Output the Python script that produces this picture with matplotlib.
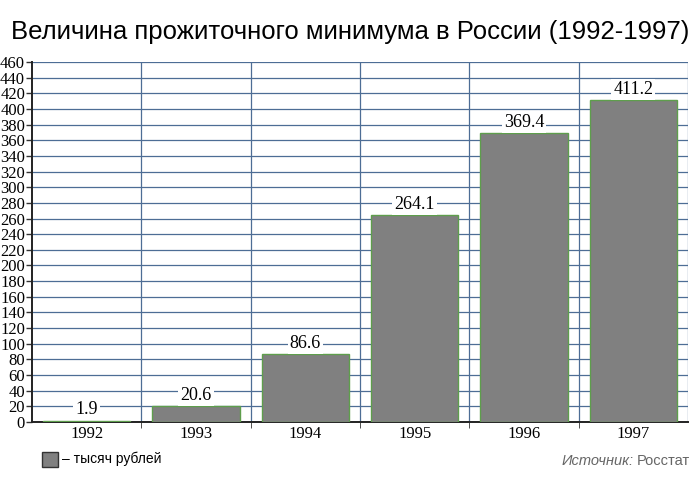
import matplotlib.pyplot as plt
from matplotlib.patches import Rectangle

years = ["1992", "1993", "1994", "1995", "1996", "1997"]
values = [1.9, 20.6, 86.6, 264.1, 369.4, 411.2]
labels = ["1.9", "20.6", "86.6", "264.1", "369.4", "411.2"]

fig = plt.figure(figsize=(7, 4.82), dpi=100)
ax = fig.add_axes([32 / 700, 60 / 482, 656 / 700, 360 / 482])

grid_c = "#4d6d95"
x = list(range(len(years)))
bars = ax.bar(x, values, width=0.8, color="#808080", edgecolor="#5e9e4c",
              linewidth=1.0, zorder=3)

ax.set_xlim(-0.5, len(years) - 0.5)
ax.set_ylim(0, 460)
ax.set_yticks(range(0, 461, 20))
ax.set_yticklabels([str(v) for v in range(0, 461, 20)],
                   family="Liberation Serif", fontsize=12)
ax.set_xticks(x)
ax.set_xticklabels(years, family="Liberation Serif", fontsize=12)
ax.tick_params(axis="x", length=0, pad=3)
ax.tick_params(axis="y", length=4, width=1, pad=1, color="#333333")

# boundaries between categories
ax.set_xticks([i + 0.5 for i in range(len(years) - 1)], minor=True)
ax.tick_params(axis="x", which="minor", length=4, color="#333333")
ax.grid(axis="x", which="minor", color=grid_c, linewidth=0.9, zorder=0)
ax.grid(axis="y", which="major", color=grid_c, linewidth=0.9, zorder=0)

for s in ["top", "right"]:
    ax.spines[s].set_visible(False)
ax.spines["left"].set_color("#222222")
ax.spines["bottom"].set_color("#222222")
ax.spines["left"].set_linewidth(1.4)
ax.spines["bottom"].set_linewidth(1.4)
ax.axvline(len(years) - 0.5, color=grid_c, linewidth=0.9, zorder=0)

for xi, v, lab in zip(x, values, labels):
    ax.text(xi, v + 3, lab, ha="center", va="bottom", family="Liberation Serif",
            fontsize=13, zorder=4,
            bbox=dict(facecolor="white", edgecolor="none", pad=1.5))

fig.text(0.5, 0.958, "Величина прожиточного минимума в России (1992-1997)",
         ha="center", va="top", family="Liberation Sans", fontsize=18.5)

fig.patches.append(Rectangle((42 / 700, 1 - 467 / 482), 16 / 700, 15 / 482,
                             transform=fig.transFigure, facecolor="#808080",
                             edgecolor="#333333", linewidth=1))
fig.text(62 / 700, 1 - 459 / 482, "– тысяч рублей", va="center",
         family="Liberation Sans", fontsize=10)

fig.text(634 / 700, 1 - 461 / 482, "Источник:", va="center", ha="right",
         family="Liberation Sans", style="italic", fontsize=10.5, color="#666666")
fig.text(637 / 700, 1 - 461 / 482, "Росстат", va="center", ha="left",
         family="Liberation Sans", fontsize=10.5, color="#666666")

fig.savefig("out.png", dpi=100)
